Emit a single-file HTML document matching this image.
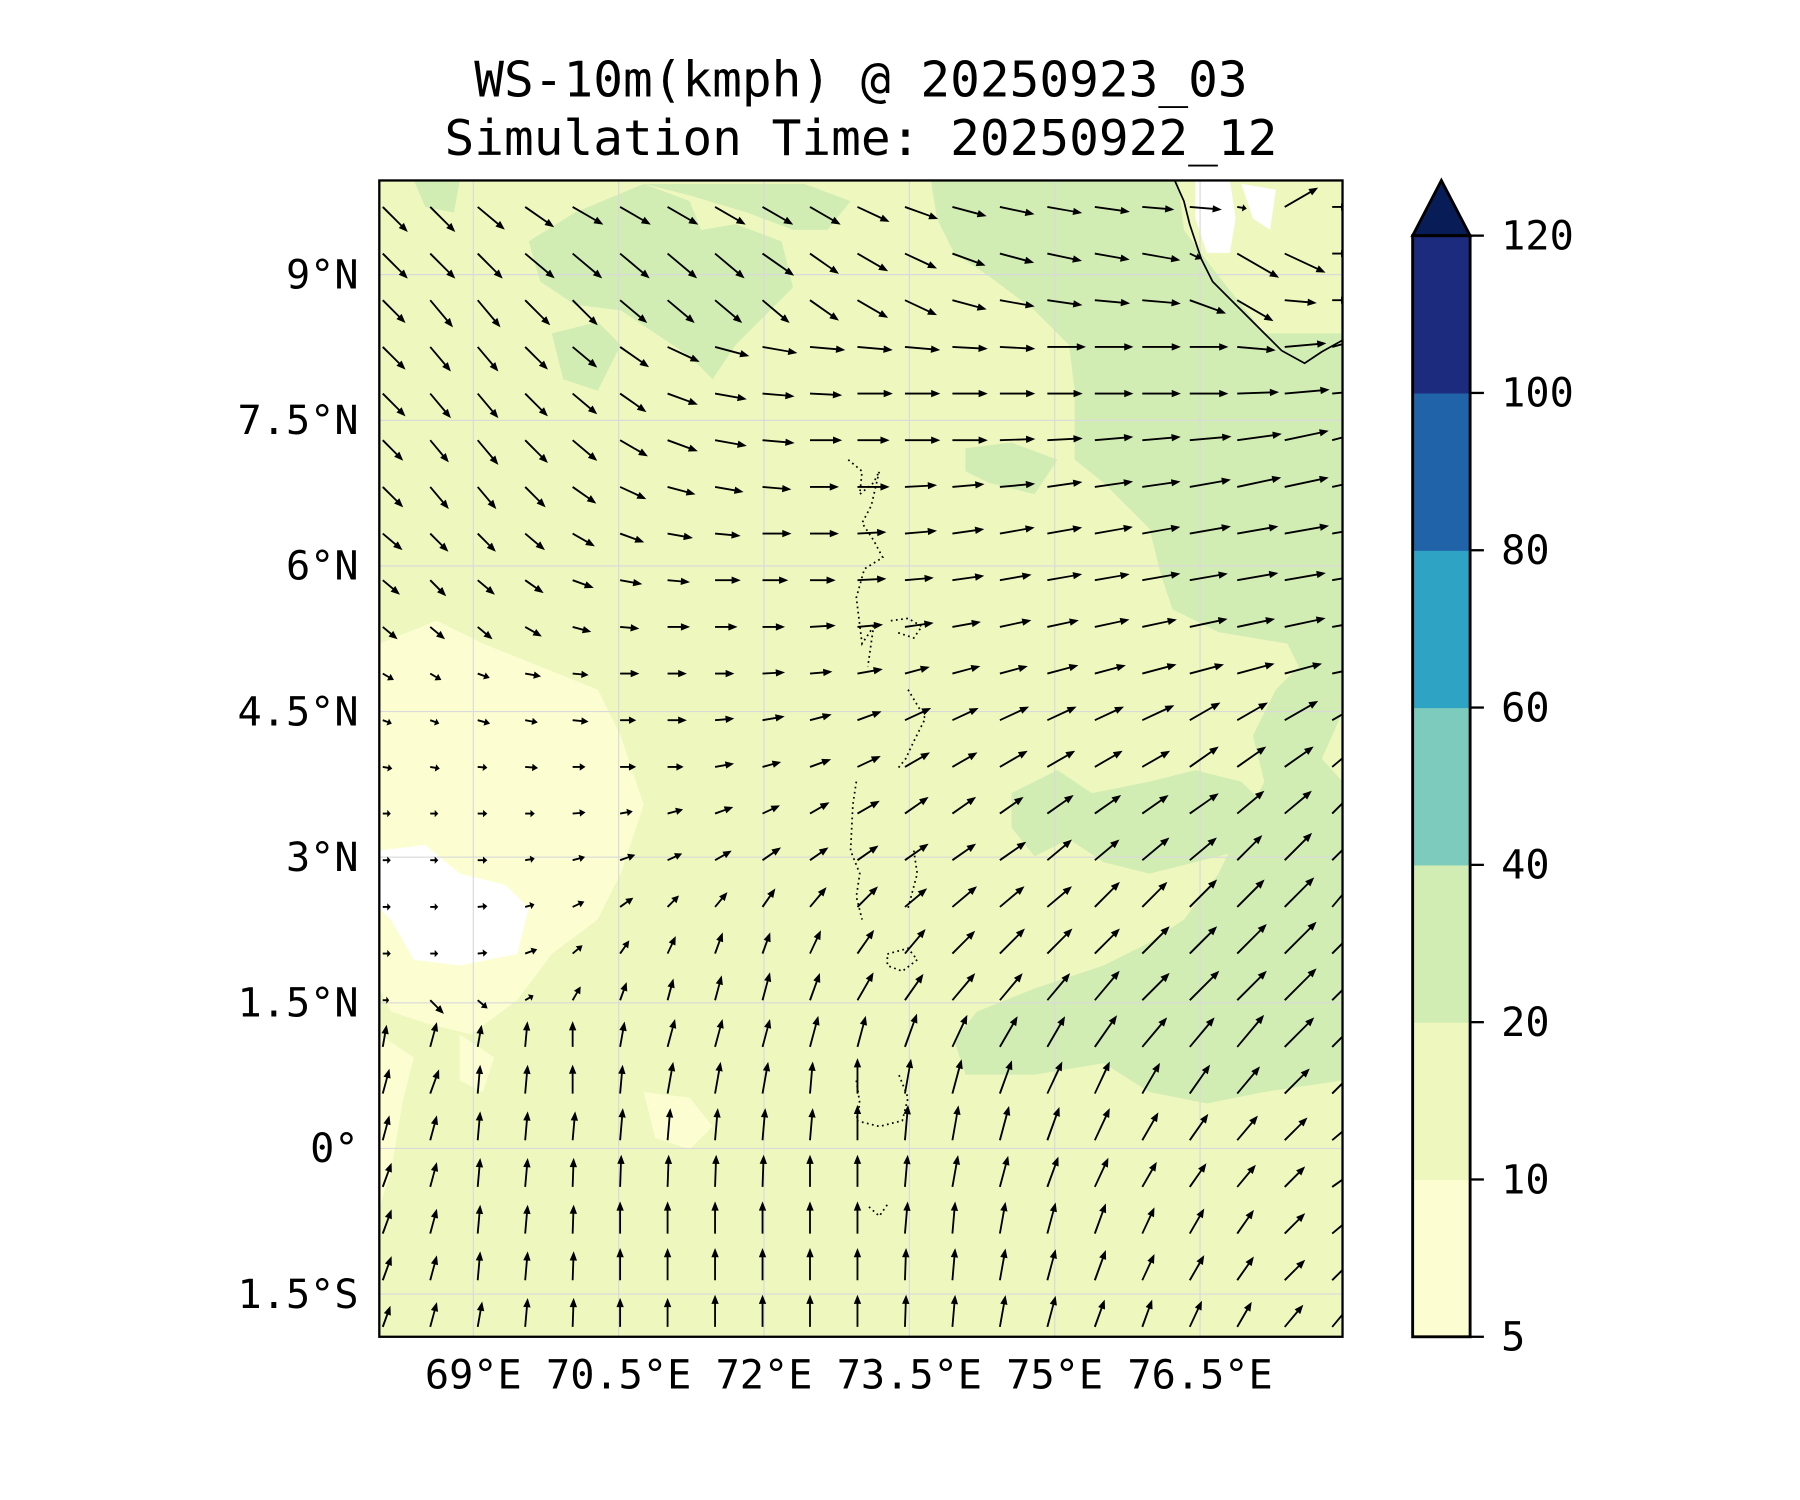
<!DOCTYPE html>
<html><head><meta charset="utf-8"><style>
html,body{margin:0;padding:0;background:#fff}
svg{display:block}
text{font-family:"DejaVu Sans Mono","Liberation Mono",monospace;fill:#000}
</style></head><body>
<svg id="chart" width="1800" height="1500" viewBox="0 0 1566 1305" xmlns="http://www.w3.org/2000/svg">
<text x="749" y="84" font-size="43" text-anchor="middle">WS-10m(kmph) @ 20250923_03</text>
<text x="749" y="135" font-size="43" text-anchor="middle">Simulation Time: 20250922_12</text>
<defs><clipPath id="pc"><rect x="330" y="157" width="838" height="1006"/></clipPath></defs>
<g clip-path="url(#pc)">
<rect x="330" y="157" width="838" height="1006" fill="#eef8be"/>
<g fill="#d2edb4">
<path d="M360 157 L400 157 L395 185 L370 180 Z"/>
<path d="M460 210 L500 185 L560 160 L600 175 L610 200 L640 195 L680 210 L690 250 L660 280 L640 300 L620 330 L600 310 L570 290 L540 270 L500 265 L470 245 Z"/>
<path d="M480 290 L520 280 L540 300 L520 340 L490 330 Z"/>
<path d="M560 160 L700 160 L740 175 L720 200 L690 200 L650 185 L600 170 Z"/>
<path d="M810 157 L1025 157 L1030 200 L1060 240 L1100 290 L1168 290 L1168 620 L1150 660 L1168 680 L1168 940 L1100 950 L1050 960 L1000 950 L960 925 L900 935 L840 935 L830 905 L850 880 L900 860 L960 840 L1000 820 L1030 800 L1060 760 L1080 720 L1100 680 L1090 640 L1110 600 L1130 580 L1120 560 L1060 550 L1020 530 L1010 500 L1000 460 L980 440 L960 420 L935 400 L935 340 L930 300 L900 270 L860 240 L830 220 L815 190 Z"/>
<path d="M840 390 L880 385 L920 400 L900 430 L860 420 L840 410 Z"/>
<path d="M880 690 L920 670 L950 690 L1000 680 L1040 670 L1080 680 L1100 700 L1080 740 L1040 750 L1000 760 L960 750 L930 730 L900 745 L880 720 Z"/>
</g>
<g fill="#fcfed2">
<path d="M330 560 L380 540 L420 560 L470 580 L520 600 L540 640 L560 700 L540 760 L520 800 L480 830 L450 870 L410 900 L370 890 L340 880 L330 860 Z"/>
<path d="M330 900 L360 920 L350 960 L340 1020 L330 1050 Z"/>
<path d="M560 950 L600 955 L620 980 L600 1000 L570 990 Z"/>
<path d="M400 900 L430 920 L420 950 L400 940 Z"/>
</g>
<g fill="#ffffff">
<path d="M330 740 L370 735 L400 760 L440 770 L460 790 L450 830 L400 840 L360 835 L340 800 L330 790 Z"/>
<path d="M1040 157 L1070 157 L1075 190 L1070 220 L1050 220 L1040 190 Z"/>
<path d="M1080 160 L1110 165 L1105 200 L1090 190 Z"/>
</g>
<g id="grid" stroke="#d9d9d9" stroke-width="1"></g>
<path d="M1022 157 L1030 175 L1035 195 L1045 225 L1055 245 L1075 265 L1100 290 L1115 305 L1135 316 L1150 306 L1168 296" fill="none" stroke="#000" stroke-width="1.5"/>
<g fill="none" stroke="#000" stroke-width="1.5" stroke-dasharray="1.5 3">
<path d="M738 400 L750 410 L748 430 L760 420 L765 410 L758 440 L750 455 L760 470 L768 485 L752 495 L745 520 L750 560 L760 545 L755 580"/>
<path d="M775 540 L790 538 L802 545 L795 555 L780 550"/>
<path d="M790 600 L805 625 L795 645 L788 660 L780 670"/>
<path d="M745 680 L742 700 L740 740 L748 760 L745 780 L750 800"/>
<path d="M795 740 L798 760 L790 790"/>
<path d="M772 830 L790 825 L798 835 L785 845 L772 840 Z"/>
<path d="M745 940 L748 960 L745 975 L765 980 L785 975 L790 955 L782 935"/>
<path d="M756 1050 L765 1058 L772 1048"/>
</g>
<g id="arrows"></g>
</g>
<rect x="330" y="157" width="838" height="1006" fill="none" stroke="#000" stroke-width="2"/>
<g id="ticks"></g>
<g id="cbar"></g>
</svg>
<script>
const NS='http://www.w3.org/2000/svg';
const lonTicks=[69,70.5,72,73.5,75,76.5];
const lonTickLabels=['69°E','70.5°E','72°E','73.5°E','75°E','76.5°E'];
const latTicks=[9,7.5,6,4.5,3,1.5,0,-1.5];
const latTickLabels=['9°N','7.5°N','6°N','4.5°N','3°N','1.5°N','0°','1.5°S'];
const cbarLevels=[5,10,20,40,60,80,100,120];
const cbarColors=['#fcfed2','#eef8be','#d2edb4','#7ccbbc','#2fa3c4','#2163a9','#1d2b7f'];
const cbarExtendColor='#081d58';
// wind direction (deg, 0=east, 90=north) per row (north to south), 21 columns
const dirRows=[
[-45,-45,-40,-35,-30,-30,-30,-30,-30,-30,-25,-20,-15,-12,-10,-8,-5,-5,-10,30,0],
[-45,-45,-45,-40,-40,-40,-40,-40,-35,-35,-30,-25,-20,-15,-12,-10,-10,-25,-30,-25,0],
[-45,-50,-50,-45,-45,-40,-40,-40,-40,-35,-30,-25,-15,-10,-8,-5,-5,-20,-30,-5,0],
[-45,-50,-50,-45,-40,-35,-25,-15,-10,-5,-5,-5,-3,-3,0,0,0,0,-5,5,15],
[-45,-50,-50,-45,-40,-35,-20,-10,-5,-3,0,0,0,0,0,0,0,0,2,5,5],
[-45,-50,-50,-45,-40,-30,-20,-10,-5,0,0,0,0,2,3,5,5,5,8,12,15],
[-45,-50,-50,-45,-35,-25,-15,-10,-5,0,0,3,5,5,8,8,8,10,12,12,12],
[-40,-45,-45,-40,-30,-20,-10,-5,0,0,3,5,8,10,10,10,10,10,10,10,10],
[-40,-45,-40,-35,-20,-10,-5,0,0,0,3,5,8,10,10,10,10,10,10,10,10],
[-40,-40,-40,-30,-15,-5,0,0,0,3,5,8,10,12,12,12,12,12,12,12,10],
[-30,-30,-20,-10,-5,0,0,0,3,5,10,15,15,15,15,15,15,15,15,15,12],
[-20,-20,-15,-10,-5,0,0,5,10,15,20,25,25,25,25,25,25,30,30,30,30],
[-10,-10,-5,-5,0,0,0,10,15,20,25,30,30,30,30,30,30,35,35,35,40],
[0,0,0,0,5,10,15,20,25,30,30,35,35,35,35,35,35,35,40,40,45],
[0,0,0,10,15,20,25,30,35,35,35,35,35,35,40,40,40,40,45,45,45],
[0,0,5,15,25,35,45,50,55,50,45,40,40,40,40,45,45,45,45,45,50],
[0,0,5,20,40,55,65,70,70,65,55,50,45,45,45,45,45,45,45,45,45],
[0,-45,-40,30,60,70,75,75,75,70,60,55,50,50,50,50,45,45,45,45,45],
[80,75,80,85,90,80,75,75,75,75,75,70,65,60,60,55,50,50,50,45,45],
[75,70,85,85,90,85,80,80,80,85,90,80,75,70,65,65,60,55,50,45,45],
[75,75,85,85,85,85,85,85,85,85,90,85,80,75,70,65,60,55,50,45,40],
[70,75,85,85,88,88,88,88,88,90,90,85,80,75,70,65,60,55,50,45,35],
[70,75,85,85,88,90,90,90,90,90,90,85,85,80,75,70,65,60,55,45,40],
[70,75,85,85,88,90,90,90,90,90,90,88,85,80,75,70,65,60,55,45,45],
[70,75,80,85,88,90,90,90,90,90,90,88,85,80,75,70,70,65,60,50,50]];
// wind speed (kmph) per row
const spdRows=[
[22,22,22,22,22,22,22,22,22,22,22,22,22,22,22,22,20,20,6,24,10],
[22,22,22,24,24,24,24,24,24,22,22,22,22,22,22,22,24,8,30,28,10],
[20,22,22,22,22,22,22,22,22,22,22,22,22,22,22,22,24,24,26,20,10],
[20,20,20,20,20,22,22,22,22,22,22,22,22,22,24,24,24,24,24,26,22],
[20,20,20,20,20,20,20,20,20,20,22,22,22,22,22,24,24,24,26,28,30],
[18,18,20,20,20,20,20,20,20,20,20,22,22,22,22,24,24,26,28,28,30],
[18,18,18,18,18,18,18,18,18,18,20,20,20,22,22,24,24,26,28,28,30],
[16,16,16,16,16,16,16,16,18,18,18,20,20,22,22,24,24,26,26,28,28],
[14,14,14,14,14,14,14,16,16,16,18,18,20,20,22,22,24,24,26,26,26],
[12,12,12,12,12,12,14,14,14,16,16,18,18,20,20,22,22,24,24,26,26],
[8,8,8,10,10,12,12,12,14,14,16,16,18,18,20,20,22,22,24,24,24],
[6,6,8,8,10,10,12,12,14,14,16,18,18,20,20,20,22,22,22,24,24],
[6,6,6,8,8,10,10,12,12,14,16,18,18,20,20,20,20,22,22,22,22],
[5,5,6,6,8,8,10,12,12,14,16,18,18,18,20,20,20,22,22,22,24],
[5,5,6,6,8,10,10,12,14,14,16,18,18,20,20,20,22,22,22,24,26],
[5,5,6,6,8,10,10,12,14,16,18,18,20,20,20,22,22,24,24,26,28],
[5,5,6,8,8,10,12,14,14,16,18,20,20,22,22,22,24,24,26,28,30],
[4,12,8,6,10,12,14,16,18,18,20,20,22,22,22,24,24,26,26,28,30],
[14,16,14,16,16,16,18,18,18,20,20,22,22,22,22,24,24,24,26,26,28],
[16,16,18,18,18,18,20,20,20,20,22,22,22,22,22,22,22,22,22,22,24],
[16,16,18,18,18,20,20,20,20,20,22,22,22,22,22,22,20,20,20,20,20],
[16,16,18,18,18,20,20,20,20,20,20,20,20,20,20,20,18,18,18,18,18],
[16,16,18,18,18,20,20,20,20,20,20,20,20,20,20,20,18,18,18,18,18],
[16,16,18,18,18,20,20,20,20,20,20,20,20,20,20,20,18,18,18,18,18],
[14,16,16,18,18,18,18,20,20,20,20,20,20,20,20,18,18,18,18,18,18]];

// axis functions (displayed units)
const X0=330,X1=1168,Y0=157,Y1=1163;
const LON0=68.03,LON1=77.97,LAT0=-1.94,LAT1=9.97;
const xs=lon=>X0+(lon-LON0)/(LON1-LON0)*(X1-X0);
const ys=lat=>Y1-(lat-LAT0)/(LAT1-LAT0)*(Y1-Y0);
function el(t,a,p){const e=document.createElementNS(NS,t);for(const k in a)e.setAttribute(k,a[k]);p.appendChild(e);return e;}

const grid=document.getElementById('grid');
lonTicks.forEach(l=>{const g=el('line',{x1:xs(l),x2:xs(l),y1:Y0,y2:Y1},grid);

});
latTicks.forEach(l=>{const g=el('line',{x1:X0,x2:X1,y1:ys(l),y2:ys(l)},grid);

});

const ticks=document.getElementById('ticks');
lonTicks.forEach((l,i)=>{const t=el('text',{x:xs(l),y:1208,'font-size':35,'text-anchor':'middle'},ticks);t.textContent=lonTickLabels[i];

});
latTicks.forEach((l,i)=>{const t=el('text',{x:312,y:ys(l)+12,'font-size':35,'text-anchor':'end'},ticks);t.textContent=latTickLabels[i];

});

// arrows
const ag=document.getElementById('arrows');
const GX0=333,GDX=41.3,GY0=180,GDY=40.6,SC=1.4;
dirRows.forEach((row,j)=>{row.forEach((d,i)=>{
 const s=spdRows[j][i];const L=s*SC;const a=d*Math.PI/180;
 const x=GX0+GDX*i,y=GY0+GDY*j;
 const hl=Math.min(8,L*0.45),hw=3.2,sw=0.8;
 const pts=[[0,-sw],[L-hl,-sw],[L-hl,-hw],[L,0],[L-hl,hw],[L-hl,sw],[0,sw]];
 const c=Math.cos(a),sn=Math.sin(a);
 const p=pts.map(([u,v])=>(x+u*c+v*sn).toFixed(1)+','+(y-u*sn+v*c).toFixed(1)).join(' ');
 const e=el('polygon',{points:p,fill:'#000'},ag);
 
 
});});

// colorbar
const cb=document.getElementById('cbar');
const CX=1229,CW=50,CT=205,CB=1163;
const segH=(CB-CT)/(cbarLevels.length-1);
cbarColors.forEach((c,i)=>{const r=el('rect',{x:CX,y:CB-(i+1)*segH,width:CW,height:segH+0.5,fill:c},cb);

});
const tri=el('polygon',{points:`${CX},${CT} ${CX+CW/2},${CT-48} ${CX+CW},${CT}`,fill:cbarExtendColor,stroke:'#000','stroke-width':2.5},cb);


const fr=el('rect',{x:CX,y:CT,width:CW,height:CB-CT,fill:'none',stroke:'#000','stroke-width':2.5},cb);


cbarLevels.forEach((v,i)=>{const y=CB-i*segH;
 const tk=el('line',{x1:CX+CW,x2:CX+CW+12,y1:y,y2:y,stroke:'#000','stroke-width':2},cb);
 
 
 const t=el('text',{x:1306,y:y+12,'font-size':35},cb);t.textContent=v;
 
 });
</script>
</body></html>
